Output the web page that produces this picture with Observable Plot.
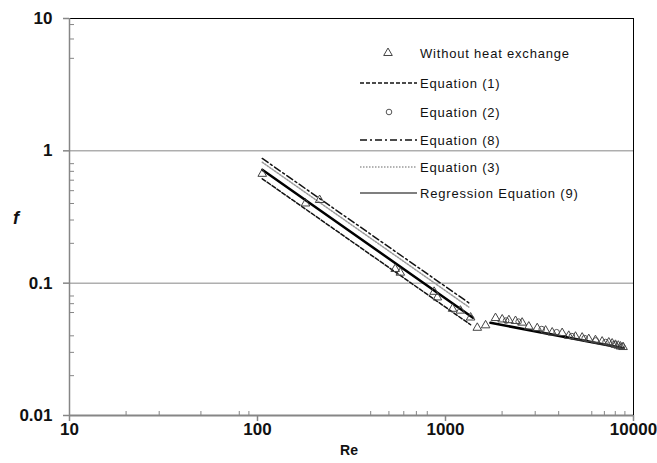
<!DOCTYPE html>
<html>
<head>
<meta charset="utf-8">
<script src="https://cdn.jsdelivr.net/npm/d3@7"></script>
<script src="https://cdn.jsdelivr.net/npm/@observablehq/plot@0.6"></script>
<style>
  html, body { margin: 0; padding: 0; background: #fff; }
  #wrap { position: relative; width: 657px; height: 463px; overflow: hidden; font-family: "Liberation Sans", Arial, sans-serif; }
  #legend { position: absolute; left: 0; top: 0; pointer-events: none; }
</style>
</head>
<body>
<div id="wrap"></div>
<script>
// ---- data ----
const triRe = [106, 180, 214, 540, 575, 870, 905, 1090, 1200, 1360, 1476, 1634,
  1845, 2003, 2174, 2357, 2557, 2774, 3075, 3408, 3694, 4174, 4525, 4914, 5332,
  5781, 6275, 6810, 7387, 7700, 8017, 8300, 8530, 8800];
const triF = [0.67, 0.40, 0.425, 0.128, 0.12, 0.086, 0.078, 0.064, 0.062, 0.055, 0.046, 0.048,
  0.0545, 0.0532, 0.0525, 0.0518, 0.0503, 0.047, 0.0457, 0.0438, 0.0424, 0.0420, 0.0400, 0.0394, 0.0388,
  0.0378, 0.0371, 0.0362, 0.0356, 0.0350, 0.0342, 0.0337, 0.0332, 0.0329];

const eq2Re = [2100, 2450, 3250, 3900, 4700, 5500, 6300, 7100, 7900, 8700];
const eq2F  = [0.0522, 0.0512, 0.0450, 0.0426, 0.0398, 0.0384, 0.0369, 0.0359, 0.0346, 0.0334];

const eq1Re = [106, 1360];   const eq1F = [0.615, 0.0485];
const eq8Re = [106, 1330];   const eq8F = [0.876, 0.071];
const eq3Re = [106, 1330];   const eq3F = [0.82, 0.066];
const regLamRe = [106, 1400];  const regLamF = [0.72, 0.0548];
const regTurRe = [1734, 8870]; const regTurF = [0.0502, 0.0322];

const xMajor = [10, 100, 1000, 10000];
const xMinor = [20, 30, 50, 80, 90, 400, 500, 600, 700, 800, 2000, 3000, 4000, 6000, 7000, 8000, 9000];
const yMajor = [10, 1, 0.1, 0.01];
const yMinor = [9, 7, 5, 0.8, 0.7, 0.6, 0.5, 0.4, 0.3, 0.2, 0.08, 0.07, 0.06, 0.04, 0.03, 0.02];
const yGrid = [1, 0.1];
const yTickLabels = ["10", "1", "0.1", "0.01"];
const xTickLabels = ["10", "100", "1000", "10000"];

const legendLabels = ["Without heat exchange", "Equation (1)", "Equation (2)", "Equation (8)", "Equation (3)", "Regression Equation (9)"];

// ---- build tables ----
const tri = triRe.map((r, i) => ({Re: r, f: triF[i]}));
const eq2 = eq2Re.map((r, i) => ({Re: r, f: eq2F[i]}));
const pairs = (re, f, key) => re.map((r, i) => ({Re: r, f: f[i], seg: key}));
const eq1 = pairs(eq1Re, eq1F, "a");
const eq8 = pairs(eq8Re, eq8F, "a");
const eq3 = pairs(eq3Re, eq3F, "a");
const reg = [...pairs(regLamRe, regLamF, "lam"), ...pairs(regTurRe, regTurF, "tur")];

const W = 657, H = 463;
const mL = 69, mR = 24, mT = 18, mB = 48;
const frameW = W - mL - mR, frameH = H - mT - mB;
const AX = "#868686";
const tickFont = {fontSize: 17, fontWeight: "bold", fill: "#111"};
const TRI_R = 3.2;

const chart = Plot.plot({
  width: W, height: H,
  marginLeft: mL, marginRight: mR, marginTop: mT, marginBottom: mB,
  style: {fontFamily: "'Liberation Sans', Arial, sans-serif", background: "#fff", overflow: "visible"},
  x: {type: "log", domain: [10, 10000], axis: null},
  y: {type: "log", domain: [0.01, 10], axis: null},
  marks: [
    // gridlines
    Plot.ruleY(yGrid, {stroke: AX, strokeWidth: 1}),
    // plot-area border (top/right)
    Plot.ruleY([10], {stroke: "#000", strokeWidth: 1}),
    Plot.ruleX([10000], {stroke: "#000", strokeWidth: 1}),
    // axis lines
    Plot.ruleX([10], {stroke: AX, strokeWidth: 1.5}),
    Plot.ruleY([0.01], {stroke: AX, strokeWidth: 2}),
    // major ticks (outside)
    Plot.ruleX(xMajor, {stroke: AX, strokeWidth: 1.5, insetTop: frameH, insetBottom: -6}),
    Plot.ruleY(yMajor, {stroke: AX, strokeWidth: 1.5, insetRight: frameW, insetLeft: -6}),
    // minor ticks (inside)
    Plot.ruleX(xMinor, {stroke: AX, strokeWidth: 1, insetTop: frameH - 4}),
    Plot.ruleY(yMinor, {stroke: AX, strokeWidth: 1, insetRight: frameW - 5}),
    // tick labels
    Plot.text(xMajor, {x: d => d, text: (d, i) => xTickLabels[i], frameAnchor: "bottom", dy: 19, ...tickFont, style: "letter-spacing:1px"}),
    Plot.text(yMajor, {y: d => d, text: (d, i) => yTickLabels[i], frameAnchor: "left", dx: -17, textAnchor: "end", ...tickFont}),
    // data lines
    Plot.line(eq3, {x: "Re", y: "f", stroke: "#9a9a9a", strokeWidth: 1.5, strokeDasharray: "1.5,1.5"}),
    Plot.line(eq8, {x: "Re", y: "f", stroke: "#111", strokeWidth: 1.5, strokeDasharray: "7,3,2,3"}),
    Plot.line(eq1, {x: "Re", y: "f", stroke: "#111", strokeWidth: 1.5, strokeDasharray: "4,2"}),
    Plot.line(reg, {x: "Re", y: "f", z: "seg", stroke: "#000", strokeWidth: 2.5}),
    // markers
    Plot.dot(eq2, {x: "Re", y: "f", r: 2.8, stroke: "#555", fill: "none", strokeWidth: 1}),
    Plot.dot(tri, {x: "Re", y: "f", symbol: "triangle", r: TRI_R, stroke: "#444", fill: "none", strokeWidth: 1})
  ]
});

const wrap = document.getElementById("wrap");
wrap.appendChild(chart);

// axis titles
const svg = d3.select(chart);
svg.append("text").attr("x", 349).attr("y", 455).attr("text-anchor", "middle")
  .attr("font-size", 14).attr("font-weight", "bold").attr("fill", "#111").text("Re");
svg.append("text").attr("x", 16).attr("y", 224).attr("text-anchor", "middle")
  .attr("font-size", 18).attr("font-weight", "bold").attr("font-style", "italic").attr("fill", "#111").text("f");

// legend (overlay)
const leg = d3.select(wrap).append("svg").attr("id", "legend").attr("width", W).attr("height", H);
const rowY = [53, 83, 112, 140, 167, 193];
const kinds = ["tri", "dash", "circ", "dashdot", "dot", "solid"];
kinds.forEach((k, i) => {
  const y = rowY[i];
  const g = leg.append("g");
  if (k === "tri") {
    g.append("path").attr("d", d3.symbol(d3.symbolTriangle, Math.PI * TRI_R * TRI_R)()).attr("transform", `translate(388,${y})`)
      .attr("fill", "none").attr("stroke", "#444");
  } else if (k === "circ") {
    g.append("circle").attr("cx", 389).attr("cy", y).attr("r", 2.8).attr("fill", "none").attr("stroke", "#555");
  } else {
    const st = {
      dash: ["#111", 1.5, "4,2"], dashdot: ["#111", 1.5, "7,3,2,3"], dot: ["#9a9a9a", 1.5, "1.5,1.5"], solid: ["#000", 1.2, null]
    }[k];
    g.append("line").attr("x1", 360).attr("x2", 417).attr("y1", y).attr("y2", y)
      .attr("stroke", st[0]).attr("stroke-width", st[1]).attr("stroke-dasharray", st[2]);
  }
  leg.append("text").attr("x", 420).attr("y", y).attr("dy", "0.35em")
    .attr("font-size", 13).attr("fill", "#111").style("letter-spacing", "0.8px")
    .attr("font-family", "'Liberation Sans', Arial, sans-serif").text(legendLabels[i]);
});
</script>
</body>
</html>
